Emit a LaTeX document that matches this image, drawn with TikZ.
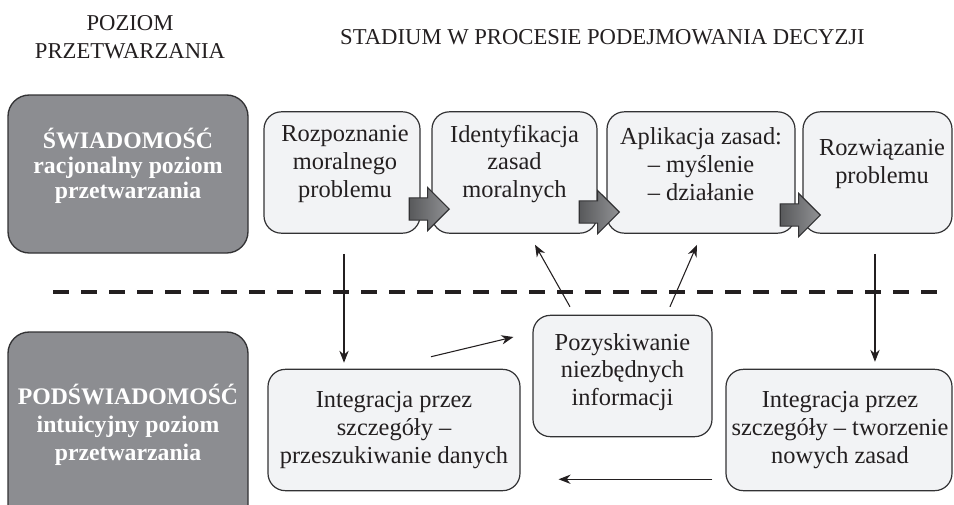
\documentclass[tikz,border=0pt]{standalone}
\usepackage{fontspec}
\setmainfont{Liberation Serif}
\usetikzlibrary{arrows.meta,shapes.arrows}

\definecolor{txtcol}{RGB}{35,31,32}
\definecolor{linecol}{RGB}{50,50,52}
\definecolor{darkfill}{RGB}{140,141,145}
\definecolor{lightfill}{RGB}{242,243,245}
\definecolor{arrdark}{RGB}{88,89,91}
\definecolor{arrlight}{RGB}{145,146,149}

\tikzset{every picture/.style={line width=0.75pt}}
\tikzset{
  darkbox/.style={draw=linecol, fill=darkfill, rounded corners=16pt, line width=1pt, minimum width=180pt},
  lightbox/.style={draw=linecol, fill=lightfill, rounded corners=13pt, line width=0.9pt, minimum height=91pt},
  boxtext/.style={align=center, inner sep=0pt, text=txtcol, font=\fontsize{18.3}{20.8}\selectfont},
  darktext/.style={align=center, inner sep=0pt, text=white, font=\bfseries\fontsize{17.8}{18.5}\selectfont},
  headtext/.style={align=center, inner sep=0pt, text=txtcol, font=\fontsize{17}{21}\selectfont},
  fatarrow/.style={single arrow, draw=linecol, line width=0.8pt, left color=arrdark, right color=arrlight,
    inner xsep=0pt, inner ysep=7.9pt, single arrow head extend=7.9pt, minimum height=30pt, anchor=tip},
  conn/.style={-{Stealth[length=9pt,width=7pt]}, line width=0.8pt, draw=txtcol}
}

\begin{document}
\begin{tikzpicture}[x=0.75pt,y=0.75pt,yscale=-1,xscale=1]
\useasboundingbox (0,0) rectangle (954,504);
\clip (0,0) rectangle (954,504);

% headings
\node[headtext] (hpoz) at (130,37.5) {POZIOM\\PRZETWARZANIA};
\node[headtext] (hstad) at (602.5,37.5) {STADIUM W PROCESIE PODEJMOWANIA DECYZJI};

% level boxes
\node[darkbox, minimum height=118.5pt] (sw) at (128,174) {};
\node[darktext] (swt) at (128,166) {ŚWIADOMOŚĆ\\racjonalny poziom\\przetwarzania};
\node[darkbox, minimum height=148.5pt] (psw) at (128,431) {};
\node[darktext, font=\bfseries\fontsize{17.8}{21}\selectfont] (pswt) at (128,425) {PODŚWIADOMOŚĆ\\intuicyjny poziom\\przetwarzania};

% stages - upper row
\node[lightbox, minimum width=117pt] (b1) at (342,172.5) {};
\node[boxtext] (t1) at (345,164) {Rozpoznanie\\moralnego\\problemu};
\node[lightbox, minimum width=123.75pt] (b2) at (514.5,172.5) {};
\node[boxtext] (t2) at (514.5,164) {Identyfikacja\\zasad\\moralnych};
\node[lightbox, minimum width=141pt] (b3) at (701,172.5) {};
\node[boxtext] (t3) at (701,164) {Aplikacja zasad:\\– myślenie\\– działanie};
\node[lightbox, minimum width=111.75pt] (b4) at (877.5,172.5) {};
\node[boxtext] (t4) at (882,164) {Rozwiązanie\\problemu};

% stages - lower row
\node[lightbox, minimum width=189pt] (b5) at (394,430) {};
\node[boxtext] (t5) at (394,430) {Integracja przez\\szczegóły –\\przeszukiwanie danych};
\node[lightbox, minimum width=134.25pt] (b6) at (622.5,376) {};
\node[boxtext] (t6) at (622.5,372) {Pozyskiwanie\\niezbędnych\\informacji};
\node[lightbox, minimum width=169.5pt] (b7) at (839,430) {};
\node[boxtext] (t7) at (840,430) {Integracja przez\\szczegóły – tworzenie\\nowych zasad};

% fat arrows between stages
\node[fatarrow] (a1) at (450,209) {};
\node[fatarrow] (a2) at (620,212) {};
\node[fatarrow] (a3) at (821,215) {};

% border between levels
\draw[txtcol, line width=3pt, dash pattern=on 12pt off 9pt] (53,292) -- (937,292);

% connectors (shifts follow the flipped y axis)
\draw[conn, shorten >=4.5pt] ([xshift=1.5pt,yshift=15pt]b1.south) -- ([xshift=1.5pt]b1.south |- b5.north);
\draw[conn, shorten >=5.2pt] ([xshift=-1.9pt,yshift=15pt]b4.south) -- ([xshift=-1.9pt]b4.south |- b7.north);
\draw[conn] ([xshift=27.75pt,yshift=-9pt]b5.north) -- ([xshift=-14.25pt,yshift=-29.25pt]b6.west);
\draw[conn] ([xshift=-39.4pt,yshift=-6pt]b6.north) -- ([xshift=15.4pt,yshift=8.25pt]b2.south);
\draw[conn] ([xshift=35.6pt,yshift=-6pt]b6.north) -- ([xshift=-3pt,yshift=8.25pt]b3.south);
\draw[conn] ([xshift=-9.75pt,yshift=-9pt]b7.south west) -- ([xshift=28.5pt,yshift=-9pt]b5.south east);

\end{tikzpicture}
\end{document}
